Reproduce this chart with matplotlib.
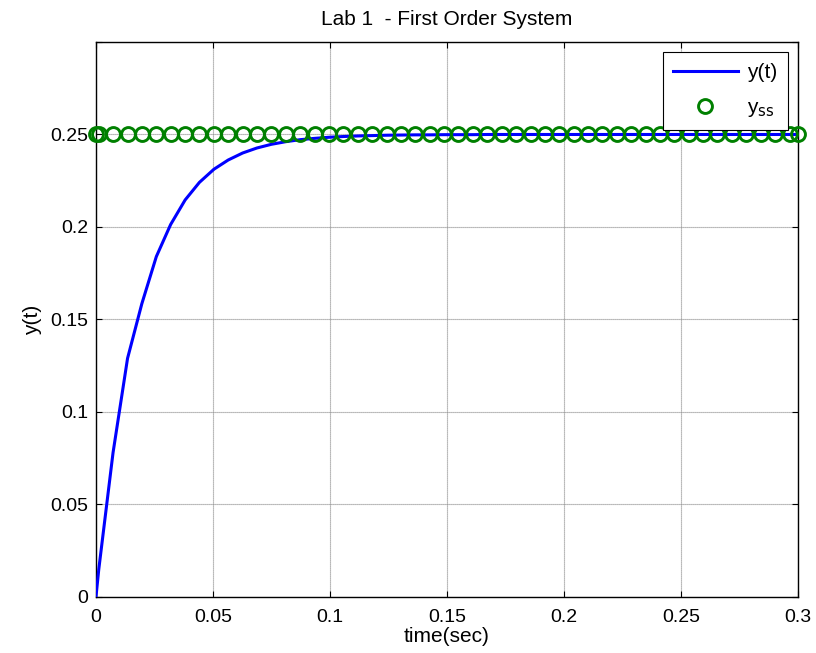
import matplotlib
matplotlib.use("Agg")
import matplotlib.pyplot as plt

plt.rcParams['font.family'] = ['Liberation Sans', 'DejaVu Sans']

# time samples (sec)
t = [0.0, 0.0012, 0.0073, 0.0135, 0.0196, 0.0258, 0.0319, 0.0381, 0.0442, 0.0504,
     0.0565, 0.0627, 0.0688, 0.0750, 0.0811, 0.0873, 0.0934, 0.0996, 0.1057, 0.1119,
     0.1180, 0.1242, 0.1303, 0.1365, 0.1426, 0.1488, 0.1549, 0.1611, 0.1672, 0.1734,
     0.1795, 0.1857, 0.1918, 0.1980, 0.2041, 0.2103, 0.2164, 0.2226, 0.2287, 0.2349,
     0.2410, 0.2472, 0.2533, 0.2595, 0.2656, 0.2718, 0.2779, 0.2841, 0.2902, 0.2964,
     0.3000]

# response y(t)
y = [0.0, 0.0149, 0.078, 0.129, 0.1585, 0.184, 0.2013, 0.2146, 0.2241, 0.2312,
     0.2362, 0.2400, 0.2427, 0.2447, 0.2461, 0.2472, 0.2479, 0.2485, 0.2489, 0.2492,
     0.2494, 0.2496, 0.2497, 0.2498, 0.2498, 0.2499, 0.2499, 0.2499, 0.2500, 0.2500,
     0.2500, 0.2500, 0.2500, 0.2500, 0.2500, 0.2500, 0.2500, 0.2500, 0.2500, 0.2500,
     0.2500, 0.2500, 0.2500, 0.2500, 0.2500, 0.2500, 0.2500, 0.2500, 0.2500, 0.2500,
     0.2500]

# steady-state value
y_ss = [0.25] * len(t)

xticks = [0, 0.05, 0.1, 0.15, 0.2, 0.25, 0.3]
xticklabels = ['0', '0.05', '0.1', '0.15', '0.2', '0.25', '0.3']
yticks = [0, 0.05, 0.1, 0.15, 0.2, 0.25, 0.3]
yticklabels = ['0', '0.05', '0.1', '0.15', '0.2', '0.25', '']

fig = plt.figure(figsize=(8.16, 6.53), dpi=100)
ax = fig.add_axes([0.1176, 0.0858, 0.8603, 0.8499])

ax.plot(t, y, color='#0000ff', lw=2.2, label='y(t)', zorder=3)
ax.plot(t, y_ss, linestyle='none', marker='o', markersize=10, markeredgewidth=2.1,
        markerfacecolor='none', markeredgecolor='#008000', label=r'y$_{\rm ss}$',
        zorder=4, clip_on=False)

ax.set_xlim(0, 0.3)
ax.set_ylim(0, 0.3)
ax.set_xticks(xticks)
ax.set_xticklabels(xticklabels)
ax.set_yticks(yticks)
ax.set_yticklabels(yticklabels)

ax.grid(True, color='#8c8c8c', linestyle=(0, (1, 0.8)), linewidth=0.8)
ax.tick_params(direction='in', top=True, right=True, length=4, width=0.8,
               labelsize=14)
ax.tick_params(axis='y', pad=5.5)
ax.tick_params(axis='x', pad=8.5)
for s in ax.spines.values():
    s.set_linewidth(1.0)

ax.set_title('Lab 1  - First Order System', fontsize=15, pad=12)
ax.set_xlabel('time(sec)', fontsize=15, labelpad=1)
ax.set_ylabel('y(t)', fontsize=15, labelpad=6)

leg = ax.legend(loc='upper right', fontsize=15, frameon=True, fancybox=False,
                edgecolor='black', framealpha=1, borderaxespad=0.5,
                handlelength=3.1, labelspacing=0.8, borderpad=0.5,
                handletextpad=0.45)
leg.get_frame().set_linewidth(0.8)
leg.set_zorder(5)

fig.savefig('out.png', dpi=100)
